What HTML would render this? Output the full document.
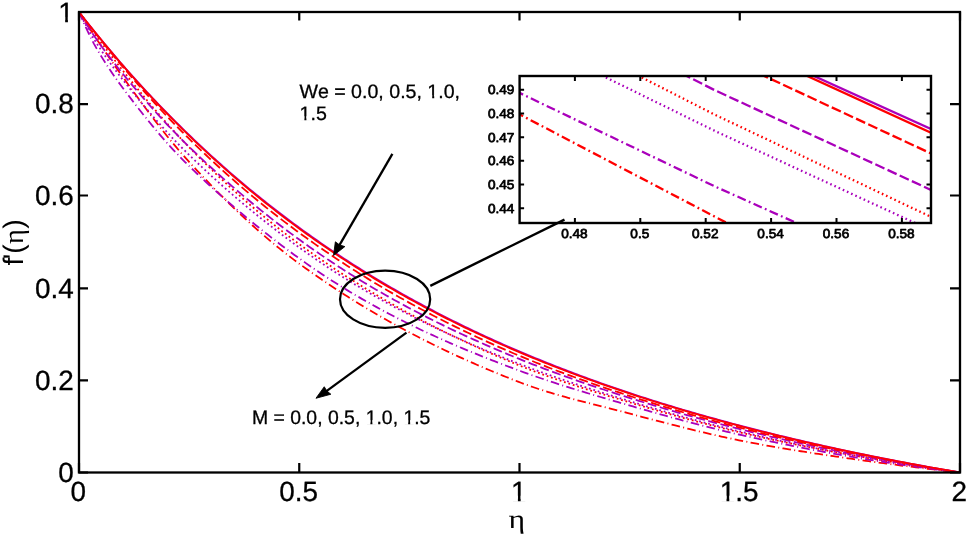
<!DOCTYPE html><html><head><meta charset="utf-8"><style>html,body{margin:0;padding:0;background:#fff;overflow:hidden;}svg{display:block;will-change:transform;}text{font-kerning:none;text-rendering:geometricPrecision;white-space:pre;}</style></head><body><svg width="968" height="536" viewBox="0 0 968 536"><rect width="968" height="536" fill="#fff"/><defs><clipPath id="cm"><rect x="79.0" y="12.0" width="881.0" height="460.5"/></clipPath><clipPath id="ci"><rect x="519.6" y="76.0" width="411.4" height="147.0"/></clipPath></defs><g clip-path="url(#cm)"><path d="M79.00,12.00 L81.95,16.60 L84.89,21.18 L87.84,25.71 L90.79,30.22 L93.73,34.68 L96.68,39.12 L99.63,43.52 L102.57,47.88 L105.52,52.22 L108.46,56.51 L111.41,60.78 L114.36,65.00 L117.30,69.19 L120.25,73.35 L123.20,77.47 L126.14,81.57 L129.09,85.66 L132.04,89.73 L134.98,93.79 L137.93,97.82 L140.88,101.84 L143.82,105.82 L146.77,109.78 L149.72,113.70 L152.66,117.60 L155.61,121.45 L158.56,125.27 L161.50,129.05 L164.45,132.78 L167.39,136.46 L170.34,140.09 L173.29,143.68 L176.23,147.20 L179.18,150.67 L182.13,154.08 L185.07,157.42 L188.02,160.70 L190.97,163.92 L193.91,167.12 L196.86,170.29 L199.81,173.43 L202.75,176.56 L205.70,179.66 L208.65,182.73 L211.59,185.78 L214.54,188.81 L217.48,191.81 L220.43,194.78 L223.38,197.73 L226.32,200.65 L229.27,203.55 L232.22,206.42 L235.16,209.26 L238.11,212.07 L241.06,214.86 L244.00,217.62 L246.95,220.35 L249.90,223.05 L252.84,225.72 L255.79,228.36 L258.74,230.98 L261.68,233.56 L264.63,236.11 L267.58,238.63 L270.52,241.12 L273.47,243.58 L276.41,246.01 L279.36,248.40 L282.31,250.76 L285.25,253.09 L288.20,255.39 L291.15,257.65 L294.09,259.88 L297.04,262.08 L299.99,264.24 L302.93,266.37 L305.88,268.49 L308.83,270.59 L311.77,272.68 L314.72,274.74 L317.67,276.79 L320.61,278.82 L323.56,280.83 L326.51,282.82 L329.45,284.80 L332.40,286.76 L335.34,288.70 L338.29,290.63 L341.24,292.54 L344.18,294.44 L347.13,296.31 L350.08,298.17 L353.02,300.02 L355.97,301.85 L358.92,303.66 L361.86,305.46 L364.81,307.24 L367.76,309.01 L370.70,310.76 L373.65,312.50 L376.60,314.22 L379.54,315.92 L382.49,317.61 L385.43,319.29 L388.38,320.95 L391.33,322.60 L394.27,324.24 L397.22,325.86 L400.17,327.46 L403.11,329.06 L406.06,330.64 L409.01,332.20 L411.95,333.75 L414.90,335.29 L417.85,336.82 L420.79,338.33 L423.74,339.83 L426.69,341.31 L429.63,342.79 L432.58,344.25 L435.53,345.70 L438.47,347.13 L441.42,348.55 L444.36,349.97 L447.31,351.37 L450.26,352.75 L453.20,354.13 L456.15,355.49 L459.10,356.85 L462.04,358.19 L464.99,359.52 L467.94,360.83 L470.88,362.14 L473.83,363.44 L476.78,364.72 L479.72,366.00 L482.67,367.26 L485.62,368.51 L488.56,369.76 L491.51,370.99 L494.45,372.21 L497.40,373.42 L500.35,374.62 L503.29,375.81 L506.24,376.99 L509.19,378.17 L512.13,379.33 L515.08,380.48 L518.03,381.62 L520.97,382.75 L523.92,383.86 L526.87,384.94 L529.81,385.99 L532.76,387.02 L535.71,388.02 L538.65,389.00 L541.60,389.96 L544.55,390.90 L547.49,391.82 L550.44,392.72 L553.38,393.60 L556.33,394.47 L559.28,395.32 L562.22,396.15 L565.17,396.97 L568.12,397.78 L571.06,398.58 L574.01,399.37 L576.96,400.14 L579.90,400.91 L582.85,401.67 L585.80,402.43 L588.74,403.18 L591.69,403.92 L594.64,404.66 L597.58,405.40 L600.53,406.14 L603.47,406.88 L606.42,407.62 L609.37,408.36 L612.31,409.10 L615.26,409.85 L618.21,410.60 L621.15,411.35 L624.10,412.12 L627.05,412.89 L629.99,413.67 L632.94,414.45 L635.89,415.23 L638.83,416.01 L641.78,416.79 L644.73,417.57 L647.67,418.35 L650.62,419.12 L653.57,419.90 L656.51,420.67 L659.46,421.43 L662.40,422.20 L665.35,422.96 L668.30,423.72 L671.24,424.47 L674.19,425.22 L677.14,425.97 L680.08,426.71 L683.03,427.45 L685.98,428.18 L688.92,428.91 L691.87,429.63 L694.82,430.35 L697.76,431.06 L700.71,431.77 L703.66,432.47 L706.60,433.16 L709.55,433.85 L712.49,434.52 L715.44,435.20 L718.39,435.86 L721.33,436.52 L724.28,437.16 L727.23,437.81 L730.17,438.44 L733.12,439.06 L736.07,439.67 L739.01,440.28 L741.96,440.88 L744.91,441.46 L747.85,442.04 L750.80,442.61 L753.75,443.17 L756.69,443.73 L759.64,444.27 L762.59,444.81 L765.53,445.35 L768.48,445.87 L771.42,446.39 L774.37,446.90 L777.32,447.41 L780.26,447.91 L783.21,448.40 L786.16,448.89 L789.10,449.38 L792.05,449.85 L795.00,450.33 L797.94,450.80 L800.89,451.26 L803.84,451.72 L806.78,452.18 L809.73,452.63 L812.68,453.08 L815.62,453.53 L818.57,453.97 L821.52,454.41 L824.46,454.85 L827.41,455.28 L830.35,455.72 L833.30,456.15 L836.25,456.58 L839.19,457.00 L842.14,457.43 L845.09,457.86 L848.03,458.28 L850.98,458.71 L853.93,459.13 L856.87,459.55 L859.82,459.96 L862.77,460.38 L865.71,460.79 L868.66,461.19 L871.61,461.60 L874.55,462.00 L877.50,462.40 L880.44,462.79 L883.39,463.19 L886.34,463.58 L889.28,463.96 L892.23,464.35 L895.18,464.73 L898.12,465.11 L901.07,465.49 L904.02,465.86 L906.96,466.23 L909.91,466.60 L912.86,466.97 L915.80,467.33 L918.75,467.69 L921.70,468.05 L924.64,468.41 L927.59,468.76 L930.54,469.11 L933.48,469.46 L936.43,469.81 L939.37,470.15 L942.32,470.50 L945.27,470.84 L948.21,471.17 L951.16,471.51 L954.11,471.84 L957.05,472.17 L960.00,472.50" stroke="#ff0000" stroke-width="1.8" fill="none" stroke-dasharray="8.6 3.3 1.0 3.3"/><path d="M79.00,12.00 L81.95,18.70 L84.89,25.25 L87.84,31.58 L90.79,37.64 L93.73,43.35 L96.68,48.66 L99.63,53.61 L102.57,58.40 L105.52,63.06 L108.46,67.59 L111.41,72.00 L114.36,76.29 L117.30,80.47 L120.25,84.54 L123.20,88.52 L126.14,92.43 L129.09,96.32 L132.04,100.17 L134.98,103.99 L137.93,107.77 L140.88,111.52 L143.82,115.23 L146.77,118.89 L149.72,122.52 L152.66,126.10 L155.61,129.63 L158.56,133.12 L161.50,136.55 L164.45,139.94 L167.39,143.27 L170.34,146.55 L173.29,149.77 L176.23,152.94 L179.18,156.04 L182.13,159.09 L185.07,162.07 L188.02,164.98 L190.97,167.84 L193.91,170.67 L196.86,173.48 L199.81,176.27 L202.75,179.03 L205.70,181.77 L208.65,184.49 L211.59,187.19 L214.54,189.87 L217.48,192.52 L220.43,195.16 L223.38,197.77 L226.32,200.37 L229.27,202.94 L232.22,205.49 L235.16,208.02 L238.11,210.53 L241.06,213.02 L244.00,215.49 L246.95,217.95 L249.90,220.38 L252.84,222.79 L255.79,225.19 L258.74,227.56 L261.68,229.92 L264.63,232.26 L267.58,234.58 L270.52,236.88 L273.47,239.16 L276.41,241.43 L279.36,243.68 L282.31,245.91 L285.25,248.12 L288.20,250.32 L291.15,252.50 L294.09,254.66 L297.04,256.80 L299.99,258.93 L302.93,261.04 L305.88,263.13 L308.83,265.19 L311.77,267.23 L314.72,269.25 L317.67,271.25 L320.61,273.23 L323.56,275.19 L326.51,277.12 L329.45,279.04 L332.40,280.94 L335.34,282.81 L338.29,284.67 L341.24,286.51 L344.18,288.33 L347.13,290.12 L350.08,291.91 L353.02,293.67 L355.97,295.41 L358.92,297.14 L361.86,298.85 L364.81,300.54 L367.76,302.22 L370.70,303.87 L373.65,305.51 L376.60,307.14 L379.54,308.75 L382.49,310.34 L385.43,311.92 L388.38,313.48 L391.33,315.02 L394.27,316.55 L397.22,318.07 L400.17,319.57 L403.11,321.06 L406.06,322.53 L409.01,323.99 L411.95,325.43 L414.90,326.86 L417.85,328.28 L420.79,329.69 L423.74,331.08 L426.69,332.46 L429.63,333.83 L432.58,335.18 L435.53,336.52 L438.47,337.86 L441.42,339.18 L444.36,340.48 L447.31,341.78 L450.26,343.07 L453.20,344.34 L456.15,345.61 L459.10,346.86 L462.04,348.11 L464.99,349.34 L467.94,350.57 L470.88,351.79 L473.83,352.99 L476.78,354.19 L479.72,355.38 L482.67,356.56 L485.62,357.73 L488.56,358.90 L491.51,360.05 L494.45,361.20 L497.40,362.34 L500.35,363.48 L503.29,364.60 L506.24,365.72 L509.19,366.83 L512.13,367.94 L515.08,369.04 L518.03,370.13 L520.97,371.22 L523.92,372.30 L526.87,373.36 L529.81,374.41 L532.76,375.45 L535.71,376.48 L538.65,377.49 L541.60,378.50 L544.55,379.50 L547.49,380.49 L550.44,381.46 L553.38,382.43 L556.33,383.39 L559.28,384.34 L562.22,385.29 L565.17,386.22 L568.12,387.15 L571.06,388.08 L574.01,388.99 L576.96,389.90 L579.90,390.81 L582.85,391.70 L585.80,392.60 L588.74,393.49 L591.69,394.37 L594.64,395.25 L597.58,396.13 L600.53,397.00 L603.47,397.87 L606.42,398.74 L609.37,399.60 L612.31,400.46 L615.26,401.32 L618.21,402.18 L621.15,403.04 L624.10,403.90 L627.05,404.76 L629.99,405.62 L632.94,406.47 L635.89,407.33 L638.83,408.18 L641.78,409.03 L644.73,409.87 L647.67,410.71 L650.62,411.55 L653.57,412.39 L656.51,413.22 L659.46,414.04 L662.40,414.87 L665.35,415.69 L668.30,416.50 L671.24,417.31 L674.19,418.12 L677.14,418.92 L680.08,419.72 L683.03,420.51 L685.98,421.30 L688.92,422.08 L691.87,422.86 L694.82,423.64 L697.76,424.40 L700.71,425.16 L703.66,425.92 L706.60,426.67 L709.55,427.42 L712.49,428.15 L715.44,428.89 L718.39,429.61 L721.33,430.33 L724.28,431.04 L727.23,431.75 L730.17,432.45 L733.12,433.14 L736.07,433.83 L739.01,434.50 L741.96,435.18 L744.91,435.84 L747.85,436.50 L750.80,437.16 L753.75,437.81 L756.69,438.46 L759.64,439.10 L762.59,439.73 L765.53,440.36 L768.48,440.99 L771.42,441.61 L774.37,442.23 L777.32,442.84 L780.26,443.45 L783.21,444.05 L786.16,444.65 L789.10,445.24 L792.05,445.83 L795.00,446.41 L797.94,446.99 L800.89,447.57 L803.84,448.14 L806.78,448.70 L809.73,449.26 L812.68,449.82 L815.62,450.37 L818.57,450.92 L821.52,451.46 L824.46,452.00 L827.41,452.54 L830.35,453.07 L833.30,453.60 L836.25,454.12 L839.19,454.64 L842.14,455.15 L845.09,455.66 L848.03,456.17 L850.98,456.67 L853.93,457.16 L856.87,457.66 L859.82,458.15 L862.77,458.63 L865.71,459.11 L868.66,459.59 L871.61,460.06 L874.55,460.53 L877.50,461.00 L880.44,461.46 L883.39,461.92 L886.34,462.37 L889.28,462.82 L892.23,463.27 L895.18,463.71 L898.12,464.15 L901.07,464.58 L904.02,465.01 L906.96,465.44 L909.91,465.86 L912.86,466.28 L915.80,466.70 L918.75,467.11 L921.70,467.52 L924.64,467.92 L927.59,468.32 L930.54,468.72 L933.48,469.12 L936.43,469.51 L939.37,469.89 L942.32,470.28 L945.27,470.66 L948.21,471.03 L951.16,471.40 L954.11,471.77 L957.05,472.14 L960.00,472.50" stroke="#aa00bb" stroke-width="1.8" fill="none" stroke-dasharray="8.6 3.3 1.0 3.3"/><path d="M79.00,12.00 L81.95,17.64 L84.89,23.16 L87.84,28.54 L90.79,33.74 L93.73,38.71 L96.68,43.41 L99.63,47.87 L102.57,52.22 L105.52,56.48 L108.46,60.65 L111.41,64.73 L114.36,68.72 L117.30,72.64 L120.25,76.48 L123.20,80.24 L126.14,83.96 L129.09,87.65 L132.04,91.31 L134.98,94.94 L137.93,98.54 L140.88,102.10 L143.82,105.64 L146.77,109.13 L149.72,112.59 L152.66,116.02 L155.61,119.40 L158.56,122.75 L161.50,126.06 L164.45,129.32 L167.39,132.55 L170.34,135.73 L173.29,138.86 L176.23,141.95 L179.18,145.00 L182.13,148.00 L185.07,150.95 L188.02,153.85 L190.97,156.71 L193.91,159.54 L196.86,162.35 L199.81,165.14 L202.75,167.90 L205.70,170.65 L208.65,173.37 L211.59,176.07 L214.54,178.75 L217.48,181.41 L220.43,184.05 L223.38,186.67 L226.32,189.26 L229.27,191.84 L232.22,194.40 L235.16,196.93 L238.11,199.45 L241.06,201.95 L244.00,204.42 L246.95,206.88 L249.90,209.32 L252.84,211.74 L255.79,214.14 L258.74,216.53 L261.68,218.89 L264.63,221.24 L267.58,223.57 L270.52,225.88 L273.47,228.17 L276.41,230.44 L279.36,232.70 L282.31,234.94 L285.25,237.16 L288.20,239.37 L291.15,241.56 L294.09,243.73 L297.04,245.88 L299.99,248.02 L302.93,250.14 L305.88,252.24 L308.83,254.32 L311.77,256.38 L314.72,258.42 L317.67,260.44 L320.61,262.45 L323.56,264.43 L326.51,266.39 L329.45,268.34 L332.40,270.27 L335.34,272.18 L338.29,274.07 L341.24,275.95 L344.18,277.81 L347.13,279.65 L350.08,281.47 L353.02,283.28 L355.97,285.07 L358.92,286.84 L361.86,288.60 L364.81,290.34 L367.76,292.07 L370.70,293.78 L373.65,295.48 L376.60,297.16 L379.54,298.82 L382.49,300.47 L385.43,302.11 L388.38,303.73 L391.33,305.33 L394.27,306.93 L397.22,308.50 L400.17,310.07 L403.11,311.62 L406.06,313.16 L409.01,314.68 L411.95,316.19 L414.90,317.69 L417.85,319.18 L420.79,320.65 L423.74,322.11 L426.69,323.56 L429.63,325.00 L432.58,326.42 L435.53,327.84 L438.47,329.24 L441.42,330.63 L444.36,332.01 L447.31,333.38 L450.26,334.73 L453.20,336.08 L456.15,337.42 L459.10,338.74 L462.04,340.06 L464.99,341.37 L467.94,342.66 L470.88,343.95 L473.83,345.23 L476.78,346.50 L479.72,347.75 L482.67,349.00 L485.62,350.24 L488.56,351.48 L491.51,352.70 L494.45,353.92 L497.40,355.12 L500.35,356.32 L503.29,357.51 L506.24,358.70 L509.19,359.87 L512.13,361.04 L515.08,362.20 L518.03,363.36 L520.97,364.50 L523.92,365.64 L526.87,366.76 L529.81,367.88 L532.76,368.98 L535.71,370.08 L538.65,371.16 L541.60,372.24 L544.55,373.30 L547.49,374.36 L550.44,375.40 L553.38,376.44 L556.33,377.47 L559.28,378.50 L562.22,379.51 L565.17,380.52 L568.12,381.52 L571.06,382.51 L574.01,383.49 L576.96,384.47 L579.90,385.45 L582.85,386.41 L585.80,387.37 L588.74,388.33 L591.69,389.28 L594.64,390.22 L597.58,391.16 L600.53,392.10 L603.47,393.03 L606.42,393.95 L609.37,394.87 L612.31,395.79 L615.26,396.71 L618.21,397.62 L621.15,398.53 L624.10,399.43 L627.05,400.34 L629.99,401.24 L632.94,402.14 L635.89,403.03 L638.83,403.92 L641.78,404.80 L644.73,405.69 L647.67,406.56 L650.62,407.44 L653.57,408.30 L656.51,409.17 L659.46,410.03 L662.40,410.88 L665.35,411.73 L668.30,412.58 L671.24,413.42 L674.19,414.25 L677.14,415.08 L680.08,415.91 L683.03,416.73 L685.98,417.55 L688.92,418.36 L691.87,419.16 L694.82,419.96 L697.76,420.76 L700.71,421.55 L703.66,422.33 L706.60,423.11 L709.55,423.89 L712.49,424.65 L715.44,425.41 L718.39,426.17 L721.33,426.92 L724.28,427.66 L727.23,428.40 L730.17,429.13 L733.12,429.86 L736.07,430.58 L739.01,431.29 L741.96,432.00 L744.91,432.70 L747.85,433.40 L750.80,434.09 L753.75,434.78 L756.69,435.46 L759.64,436.14 L762.59,436.81 L765.53,437.48 L768.48,438.14 L771.42,438.80 L774.37,439.46 L777.32,440.11 L780.26,440.75 L783.21,441.39 L786.16,442.03 L789.10,442.66 L792.05,443.29 L795.00,443.91 L797.94,444.53 L800.89,445.14 L803.84,445.75 L806.78,446.36 L809.73,446.96 L812.68,447.56 L815.62,448.15 L818.57,448.74 L821.52,449.32 L824.46,449.90 L827.41,450.48 L830.35,451.05 L833.30,451.62 L836.25,452.18 L839.19,452.74 L842.14,453.30 L845.09,453.85 L848.03,454.40 L850.98,454.94 L853.93,455.48 L856.87,456.02 L859.82,456.55 L862.77,457.08 L865.71,457.61 L868.66,458.13 L871.61,458.65 L874.55,459.16 L877.50,459.67 L880.44,460.18 L883.39,460.68 L886.34,461.18 L889.28,461.67 L892.23,462.16 L895.18,462.65 L898.12,463.14 L901.07,463.62 L904.02,464.09 L906.96,464.57 L909.91,465.04 L912.86,465.50 L915.80,465.97 L918.75,466.43 L921.70,466.88 L924.64,467.33 L927.59,467.78 L930.54,468.23 L933.48,468.67 L936.43,469.11 L939.37,469.55 L942.32,469.98 L945.27,470.41 L948.21,470.83 L951.16,471.25 L954.11,471.67 L957.05,472.09 L960.00,472.50" stroke="#aa00bb" stroke-width="1.8" fill="none" stroke-dasharray="1.8 2.8"/><path d="M79.00,12.00 L81.95,16.15 L84.89,20.27 L87.84,24.36 L90.79,28.42 L93.73,32.45 L96.68,36.44 L99.63,40.41 L102.57,44.34 L105.52,48.25 L108.46,52.12 L111.41,55.96 L114.36,59.78 L117.30,63.56 L120.25,67.31 L123.20,71.03 L126.14,74.73 L129.09,78.41 L132.04,82.07 L134.98,85.70 L137.93,89.31 L140.88,92.90 L143.82,96.46 L146.77,100.00 L149.72,103.51 L152.66,106.99 L155.61,110.44 L158.56,113.86 L161.50,117.25 L164.45,120.60 L167.39,123.93 L170.34,127.21 L173.29,130.46 L176.23,133.68 L179.18,136.85 L182.13,139.99 L185.07,143.09 L188.02,146.14 L190.97,149.16 L193.91,152.15 L196.86,155.12 L199.81,158.07 L202.75,160.99 L205.70,163.90 L208.65,166.78 L211.59,169.63 L214.54,172.47 L217.48,175.28 L220.43,178.07 L223.38,180.84 L226.32,183.59 L229.27,186.31 L232.22,189.01 L235.16,191.69 L238.11,194.34 L241.06,196.97 L244.00,199.58 L246.95,202.16 L249.90,204.73 L252.84,207.26 L255.79,209.78 L258.74,212.27 L261.68,214.74 L264.63,217.18 L267.58,219.61 L270.52,222.00 L273.47,224.38 L276.41,226.73 L279.36,229.05 L282.31,231.36 L285.25,233.63 L288.20,235.89 L291.15,238.12 L294.09,240.32 L297.04,242.51 L299.99,244.66 L302.93,246.80 L305.88,248.92 L308.83,251.03 L311.77,253.12 L314.72,255.19 L317.67,257.24 L320.61,259.28 L323.56,261.30 L326.51,263.31 L329.45,265.30 L332.40,267.27 L335.34,269.23 L338.29,271.17 L341.24,273.10 L344.18,275.01 L347.13,276.91 L350.08,278.79 L353.02,280.66 L355.97,282.51 L358.92,284.35 L361.86,286.17 L364.81,287.98 L367.76,289.77 L370.70,291.55 L373.65,293.32 L376.60,295.07 L379.54,296.81 L382.49,298.53 L385.43,300.24 L388.38,301.94 L391.33,303.62 L394.27,305.29 L397.22,306.95 L400.17,308.60 L403.11,310.23 L406.06,311.85 L409.01,313.45 L411.95,315.05 L414.90,316.63 L417.85,318.19 L420.79,319.75 L423.74,321.30 L426.69,322.83 L429.63,324.35 L432.58,325.86 L435.53,327.35 L438.47,328.84 L441.42,330.31 L444.36,331.77 L447.31,333.22 L450.26,334.66 L453.20,336.09 L456.15,337.51 L459.10,338.92 L462.04,340.31 L464.99,341.70 L467.94,343.07 L470.88,344.43 L473.83,345.79 L476.78,347.13 L479.72,348.46 L482.67,349.79 L485.62,351.10 L488.56,352.40 L491.51,353.69 L494.45,354.98 L497.40,356.25 L500.35,357.51 L503.29,358.77 L506.24,360.01 L509.19,361.25 L512.13,362.47 L515.08,363.69 L518.03,364.90 L520.97,366.09 L523.92,367.27 L526.87,368.44 L529.81,369.59 L532.76,370.72 L535.71,371.84 L538.65,372.94 L541.60,374.03 L544.55,375.11 L547.49,376.17 L550.44,377.22 L553.38,378.25 L556.33,379.28 L559.28,380.29 L562.22,381.29 L565.17,382.29 L568.12,383.27 L571.06,384.24 L574.01,385.21 L576.96,386.17 L579.90,387.11 L582.85,388.06 L585.80,388.99 L588.74,389.92 L591.69,390.84 L594.64,391.76 L597.58,392.67 L600.53,393.58 L603.47,394.48 L606.42,395.38 L609.37,396.28 L612.31,397.17 L615.26,398.06 L618.21,398.95 L621.15,399.84 L624.10,400.73 L627.05,401.62 L629.99,402.51 L632.94,403.39 L635.89,404.28 L638.83,405.16 L641.78,406.03 L644.73,406.90 L647.67,407.77 L650.62,408.63 L653.57,409.49 L656.51,410.35 L659.46,411.20 L662.40,412.04 L665.35,412.88 L668.30,413.72 L671.24,414.55 L674.19,415.37 L677.14,416.20 L680.08,417.01 L683.03,417.82 L685.98,418.63 L688.92,419.43 L691.87,420.23 L694.82,421.02 L697.76,421.80 L700.71,422.58 L703.66,423.35 L706.60,424.12 L709.55,424.88 L712.49,425.64 L715.44,426.39 L718.39,427.13 L721.33,427.87 L724.28,428.60 L727.23,429.33 L730.17,430.05 L733.12,430.76 L736.07,431.47 L739.01,432.17 L741.96,432.86 L744.91,433.54 L747.85,434.22 L750.80,434.90 L753.75,435.56 L756.69,436.23 L759.64,436.88 L762.59,437.53 L765.53,438.17 L768.48,438.81 L771.42,439.45 L774.37,440.07 L777.32,440.70 L780.26,441.32 L783.21,441.93 L786.16,442.54 L789.10,443.14 L792.05,443.74 L795.00,444.33 L797.94,444.92 L800.89,445.51 L803.84,446.09 L806.78,446.67 L809.73,447.24 L812.68,447.82 L815.62,448.38 L818.57,448.95 L821.52,449.51 L824.46,450.06 L827.41,450.62 L830.35,451.17 L833.30,451.71 L836.25,452.26 L839.19,452.80 L842.14,453.34 L845.09,453.88 L848.03,454.41 L850.98,454.95 L853.93,455.48 L856.87,456.00 L859.82,456.52 L862.77,457.04 L865.71,457.56 L868.66,458.07 L871.61,458.58 L874.55,459.09 L877.50,459.59 L880.44,460.09 L883.39,460.59 L886.34,461.09 L889.28,461.58 L892.23,462.06 L895.18,462.55 L898.12,463.03 L901.07,463.51 L904.02,463.99 L906.96,464.46 L909.91,464.93 L912.86,465.40 L915.80,465.86 L918.75,466.33 L921.70,466.78 L924.64,467.24 L927.59,467.69 L930.54,468.14 L933.48,468.59 L936.43,469.04 L939.37,469.48 L942.32,469.92 L945.27,470.36 L948.21,470.79 L951.16,471.22 L954.11,471.65 L957.05,472.08 L960.00,472.50" stroke="#ff0000" stroke-width="1.8" fill="none" stroke-dasharray="1.8 2.8"/><path d="M79.00,12.00 L81.95,16.86 L84.89,21.65 L87.84,26.34 L90.79,30.91 L93.73,35.33 L96.68,39.60 L99.63,43.70 L102.57,47.74 L105.52,51.70 L108.46,55.61 L111.41,59.45 L114.36,63.23 L117.30,66.95 L120.25,70.62 L123.20,74.24 L126.14,77.81 L129.09,81.36 L132.04,84.88 L134.98,88.37 L137.93,91.84 L140.88,95.27 L143.82,98.68 L146.77,102.05 L149.72,105.39 L152.66,108.70 L155.61,111.98 L158.56,115.22 L161.50,118.44 L164.45,121.62 L167.39,124.76 L170.34,127.87 L173.29,130.94 L176.23,133.98 L179.18,136.99 L182.13,139.95 L185.07,142.88 L188.02,145.77 L190.97,148.63 L193.91,151.46 L196.86,154.27 L199.81,157.06 L202.75,159.83 L205.70,162.57 L208.65,165.30 L211.59,168.00 L214.54,170.68 L217.48,173.34 L220.43,175.98 L223.38,178.60 L226.32,181.21 L229.27,183.79 L232.22,186.35 L235.16,188.89 L238.11,191.41 L241.06,193.91 L244.00,196.39 L246.95,198.85 L249.90,201.30 L252.84,203.72 L255.79,206.13 L258.74,208.52 L261.68,210.89 L264.63,213.24 L267.58,215.58 L270.52,217.89 L273.47,220.19 L276.41,222.47 L279.36,224.73 L282.31,226.98 L285.25,229.21 L288.20,231.42 L291.15,233.62 L294.09,235.80 L297.04,237.96 L299.99,240.10 L302.93,242.23 L305.88,244.34 L308.83,246.43 L311.77,248.50 L314.72,250.56 L317.67,252.60 L320.61,254.62 L323.56,256.62 L326.51,258.61 L329.45,260.58 L332.40,262.53 L335.34,264.46 L338.29,266.38 L341.24,268.29 L344.18,270.17 L347.13,272.04 L350.08,273.90 L353.02,275.74 L355.97,277.56 L358.92,279.37 L361.86,281.17 L364.81,282.94 L367.76,284.71 L370.70,286.46 L373.65,288.19 L376.60,289.91 L379.54,291.62 L382.49,293.31 L385.43,294.99 L388.38,296.65 L391.33,298.30 L394.27,299.94 L397.22,301.56 L400.17,303.17 L403.11,304.77 L406.06,306.36 L409.01,307.93 L411.95,309.49 L414.90,311.04 L417.85,312.57 L420.79,314.09 L423.74,315.61 L426.69,317.10 L429.63,318.59 L432.58,320.07 L435.53,321.53 L438.47,322.98 L441.42,324.43 L444.36,325.86 L447.31,327.28 L450.26,328.69 L453.20,330.09 L456.15,331.47 L459.10,332.85 L462.04,334.22 L464.99,335.58 L467.94,336.92 L470.88,338.26 L473.83,339.59 L476.78,340.91 L479.72,342.22 L482.67,343.52 L485.62,344.81 L488.56,346.09 L491.51,347.36 L494.45,348.63 L497.40,349.88 L500.35,351.13 L503.29,352.37 L506.24,353.60 L509.19,354.82 L512.13,356.03 L515.08,357.24 L518.03,358.44 L520.97,359.63 L523.92,360.81 L526.87,361.98 L529.81,363.14 L532.76,364.29 L535.71,365.43 L538.65,366.57 L541.60,367.69 L544.55,368.80 L547.49,369.91 L550.44,371.01 L553.38,372.10 L556.33,373.18 L559.28,374.25 L562.22,375.32 L565.17,376.38 L568.12,377.43 L571.06,378.47 L574.01,379.50 L576.96,380.53 L579.90,381.56 L582.85,382.57 L585.80,383.58 L588.74,384.58 L591.69,385.58 L594.64,386.57 L597.58,387.56 L600.53,388.54 L603.47,389.51 L606.42,390.48 L609.37,391.44 L612.31,392.40 L615.26,393.36 L618.21,394.30 L621.15,395.25 L624.10,396.19 L627.05,397.13 L629.99,398.06 L632.94,398.99 L635.89,399.91 L638.83,400.83 L641.78,401.74 L644.73,402.65 L647.67,403.55 L650.62,404.45 L653.57,405.34 L656.51,406.23 L659.46,407.11 L662.40,407.99 L665.35,408.86 L668.30,409.73 L671.24,410.59 L674.19,411.45 L677.14,412.30 L680.08,413.15 L683.03,413.99 L685.98,414.82 L688.92,415.66 L691.87,416.48 L694.82,417.30 L697.76,418.12 L700.71,418.93 L703.66,419.73 L706.60,420.53 L709.55,421.32 L712.49,422.11 L715.44,422.89 L718.39,423.67 L721.33,424.44 L724.28,425.21 L727.23,425.97 L730.17,426.73 L733.12,427.48 L736.07,428.22 L739.01,428.96 L741.96,429.69 L744.91,430.42 L747.85,431.14 L750.80,431.86 L753.75,432.58 L756.69,433.28 L759.64,433.99 L762.59,434.69 L765.53,435.38 L768.48,436.08 L771.42,436.76 L774.37,437.44 L777.32,438.12 L780.26,438.79 L783.21,439.46 L786.16,440.13 L789.10,440.79 L792.05,441.44 L795.00,442.09 L797.94,442.74 L800.89,443.38 L803.84,444.02 L806.78,444.66 L809.73,445.29 L812.68,445.91 L815.62,446.54 L818.57,447.15 L821.52,447.77 L824.46,448.38 L827.41,448.98 L830.35,449.59 L833.30,450.19 L836.25,450.78 L839.19,451.37 L842.14,451.96 L845.09,452.54 L848.03,453.12 L850.98,453.69 L853.93,454.27 L856.87,454.83 L859.82,455.40 L862.77,455.96 L865.71,456.51 L868.66,457.07 L871.61,457.62 L874.55,458.16 L877.50,458.70 L880.44,459.24 L883.39,459.78 L886.34,460.31 L889.28,460.84 L892.23,461.36 L895.18,461.88 L898.12,462.40 L901.07,462.92 L904.02,463.43 L906.96,463.93 L909.91,464.44 L912.86,464.94 L915.80,465.43 L918.75,465.93 L921.70,466.42 L924.64,466.91 L927.59,467.39 L930.54,467.87 L933.48,468.35 L936.43,468.82 L939.37,469.29 L942.32,469.76 L945.27,470.23 L948.21,470.69 L951.16,471.14 L954.11,471.60 L957.05,472.05 L960.00,472.50" stroke="#aa00bb" stroke-width="1.8" fill="none" stroke-dasharray="9 3.6"/><path d="M79.00,12.00 L81.95,15.89 L84.89,19.75 L87.84,23.58 L90.79,27.38 L93.73,31.15 L96.68,34.89 L99.63,38.61 L102.57,42.29 L105.52,45.95 L108.46,49.58 L111.41,53.18 L114.36,56.75 L117.30,60.30 L120.25,63.81 L123.20,67.31 L126.14,70.77 L129.09,74.21 L132.04,77.63 L134.98,81.02 L137.93,84.39 L140.88,87.73 L143.82,91.05 L146.77,94.34 L149.72,97.61 L152.66,100.85 L155.61,104.06 L158.56,107.25 L161.50,110.42 L164.45,113.56 L167.39,116.67 L170.34,119.76 L173.29,122.82 L176.23,125.85 L179.18,128.86 L182.13,131.83 L185.07,134.79 L188.02,137.71 L190.97,140.61 L193.91,143.49 L196.86,146.34 L199.81,149.17 L202.75,151.98 L205.70,154.77 L208.65,157.54 L211.59,160.29 L214.54,163.01 L217.48,165.72 L220.43,168.40 L223.38,171.07 L226.32,173.71 L229.27,176.33 L232.22,178.93 L235.16,181.51 L238.11,184.08 L241.06,186.62 L244.00,189.14 L246.95,191.64 L249.90,194.12 L252.84,196.58 L255.79,199.02 L258.74,201.44 L261.68,203.85 L264.63,206.23 L267.58,208.59 L270.52,210.94 L273.47,213.26 L276.41,215.57 L279.36,217.85 L282.31,220.12 L285.25,222.37 L288.20,224.60 L291.15,226.81 L294.09,229.01 L297.04,231.18 L299.99,233.34 L302.93,235.48 L305.88,237.60 L308.83,239.70 L311.77,241.80 L314.72,243.87 L317.67,245.93 L320.61,247.97 L323.56,250.00 L326.51,252.01 L329.45,254.01 L332.40,255.99 L335.34,257.96 L338.29,259.91 L341.24,261.85 L344.18,263.77 L347.13,265.68 L350.08,267.57 L353.02,269.45 L355.97,271.32 L358.92,273.17 L361.86,275.01 L364.81,276.83 L367.76,278.64 L370.70,280.43 L373.65,282.22 L376.60,283.99 L379.54,285.74 L382.49,287.49 L385.43,289.22 L388.38,290.93 L391.33,292.64 L394.27,294.33 L397.22,296.01 L400.17,297.67 L403.11,299.33 L406.06,300.97 L409.01,302.60 L411.95,304.22 L414.90,305.82 L417.85,307.42 L420.79,309.00 L423.74,310.57 L426.69,312.13 L429.63,313.67 L432.58,315.21 L435.53,316.73 L438.47,318.25 L441.42,319.75 L444.36,321.24 L447.31,322.72 L450.26,324.19 L453.20,325.65 L456.15,327.10 L459.10,328.54 L462.04,329.96 L464.99,331.38 L467.94,332.79 L470.88,334.18 L473.83,335.57 L476.78,336.95 L479.72,338.31 L482.67,339.67 L485.62,341.02 L488.56,342.35 L491.51,343.68 L494.45,345.00 L497.40,346.31 L500.35,347.61 L503.29,348.90 L506.24,350.18 L509.19,351.45 L512.13,352.71 L515.08,353.97 L518.03,355.21 L520.97,356.45 L523.92,357.68 L526.87,358.89 L529.81,360.09 L532.76,361.29 L535.71,362.47 L538.65,363.65 L541.60,364.81 L544.55,365.96 L547.49,367.11 L550.44,368.24 L553.38,369.37 L556.33,370.49 L559.28,371.60 L562.22,372.70 L565.17,373.79 L568.12,374.87 L571.06,375.95 L574.01,377.01 L576.96,378.07 L579.90,379.13 L582.85,380.17 L585.80,381.21 L588.74,382.24 L591.69,383.27 L594.64,384.29 L597.58,385.30 L600.53,386.30 L603.47,387.30 L606.42,388.29 L609.37,389.28 L612.31,390.26 L615.26,391.24 L618.21,392.21 L621.15,393.18 L624.10,394.14 L627.05,395.10 L629.99,396.05 L632.94,397.00 L635.89,397.94 L638.83,398.87 L641.78,399.80 L644.73,400.73 L647.67,401.65 L650.62,402.56 L653.57,403.47 L656.51,404.37 L659.46,405.27 L662.40,406.16 L665.35,407.05 L668.30,407.93 L671.24,408.80 L674.19,409.67 L677.14,410.54 L680.08,411.40 L683.03,412.25 L685.98,413.10 L688.92,413.94 L691.87,414.78 L694.82,415.61 L697.76,416.44 L700.71,417.26 L703.66,418.08 L706.60,418.89 L709.55,419.70 L712.49,420.50 L715.44,421.29 L718.39,422.08 L721.33,422.87 L724.28,423.65 L727.23,424.42 L730.17,425.19 L733.12,425.96 L736.07,426.72 L739.01,427.47 L741.96,428.22 L744.91,428.96 L747.85,429.70 L750.80,430.43 L753.75,431.16 L756.69,431.88 L759.64,432.60 L762.59,433.31 L765.53,434.02 L768.48,434.73 L771.42,435.43 L774.37,436.12 L777.32,436.81 L780.26,437.50 L783.21,438.18 L786.16,438.86 L789.10,439.53 L792.05,440.20 L795.00,440.86 L797.94,441.53 L800.89,442.18 L803.84,442.83 L806.78,443.48 L809.73,444.13 L812.68,444.77 L815.62,445.40 L818.57,446.04 L821.52,446.67 L824.46,447.29 L827.41,447.92 L830.35,448.53 L833.30,449.15 L836.25,449.76 L839.19,450.37 L842.14,450.97 L845.09,451.58 L848.03,452.17 L850.98,452.77 L853.93,453.36 L856.87,453.95 L859.82,454.53 L862.77,455.11 L865.71,455.69 L868.66,456.27 L871.61,456.84 L874.55,457.41 L877.50,457.97 L880.44,458.53 L883.39,459.09 L886.34,459.64 L889.28,460.19 L892.23,460.74 L895.18,461.29 L898.12,461.83 L901.07,462.37 L904.02,462.90 L906.96,463.44 L909.91,463.96 L912.86,464.49 L915.80,465.01 L918.75,465.53 L921.70,466.05 L924.64,466.56 L927.59,467.08 L930.54,467.58 L933.48,468.09 L936.43,468.59 L939.37,469.09 L942.32,469.58 L945.27,470.08 L948.21,470.57 L951.16,471.06 L954.11,471.54 L957.05,472.02 L960.00,472.50" stroke="#ff0000" stroke-width="1.8" fill="none" stroke-dasharray="9 3.6"/><path d="M79.00,12.00 L81.95,15.77 L84.89,19.51 L87.84,23.22 L90.79,26.91 L93.73,30.56 L96.68,34.19 L99.63,37.79 L102.57,41.37 L105.52,44.91 L108.46,48.43 L111.41,51.92 L114.36,55.39 L117.30,58.82 L120.25,62.24 L123.20,65.62 L126.14,68.98 L129.09,72.32 L132.04,75.62 L134.98,78.91 L137.93,82.16 L140.88,85.40 L143.82,88.60 L146.77,91.79 L149.72,94.94 L152.66,98.08 L155.61,101.19 L158.56,104.27 L161.50,107.34 L164.45,110.38 L167.39,113.40 L170.34,116.39 L173.29,119.37 L176.23,122.32 L179.18,125.25 L182.13,128.15 L185.07,131.04 L188.02,133.91 L190.97,136.75 L193.91,139.58 L196.86,142.38 L199.81,145.16 L202.75,147.92 L205.70,150.66 L208.65,153.37 L211.59,156.07 L214.54,158.75 L217.48,161.40 L220.43,164.04 L223.38,166.66 L226.32,169.25 L229.27,171.83 L232.22,174.39 L235.16,176.93 L238.11,179.44 L241.06,181.94 L244.00,184.43 L246.95,186.89 L249.90,189.33 L252.84,191.76 L255.79,194.17 L258.74,196.56 L261.68,198.93 L264.63,201.29 L267.58,203.62 L270.52,205.94 L273.47,208.25 L276.41,210.53 L279.36,212.80 L282.31,215.05 L285.25,217.29 L288.20,219.51 L291.15,221.71 L294.09,223.90 L297.04,226.07 L299.99,228.22 L302.93,230.36 L305.88,232.49 L308.83,234.59 L311.77,236.69 L314.72,238.76 L317.67,240.82 L320.61,242.87 L323.56,244.90 L326.51,246.92 L329.45,248.92 L332.40,250.90 L335.34,252.87 L338.29,254.83 L341.24,256.77 L344.18,258.70 L347.13,260.61 L350.08,262.51 L353.02,264.39 L355.97,266.27 L358.92,268.12 L361.86,269.97 L364.81,271.80 L367.76,273.61 L370.70,275.42 L373.65,277.21 L376.60,278.99 L379.54,280.75 L382.49,282.50 L385.43,284.24 L388.38,285.97 L391.33,287.68 L394.27,289.38 L397.22,291.07 L400.17,292.75 L403.11,294.41 L406.06,296.06 L409.01,297.70 L411.95,299.33 L414.90,300.95 L417.85,302.55 L420.79,304.15 L423.74,305.73 L426.69,307.30 L429.63,308.86 L432.58,310.41 L435.53,311.94 L438.47,313.47 L441.42,314.99 L444.36,316.49 L447.31,317.98 L450.26,319.47 L453.20,320.94 L456.15,322.40 L459.10,323.85 L462.04,325.30 L464.99,326.73 L467.94,328.15 L470.88,329.56 L473.83,330.96 L476.78,332.35 L479.72,333.73 L482.67,335.11 L485.62,336.47 L488.56,337.82 L491.51,339.17 L494.45,340.50 L497.40,341.82 L500.35,343.14 L503.29,344.45 L506.24,345.74 L509.19,347.03 L512.13,348.31 L515.08,349.58 L518.03,350.85 L520.97,352.10 L523.92,353.34 L526.87,354.58 L529.81,355.81 L532.76,357.03 L535.71,358.24 L538.65,359.45 L541.60,360.65 L544.55,361.84 L547.49,363.02 L550.44,364.19 L553.38,365.36 L556.33,366.52 L559.28,367.67 L562.22,368.82 L565.17,369.95 L568.12,371.08 L571.06,372.20 L574.01,373.32 L576.96,374.42 L579.90,375.52 L582.85,376.62 L585.80,377.70 L588.74,378.78 L591.69,379.85 L594.64,380.91 L597.58,381.97 L600.53,383.02 L603.47,384.06 L606.42,385.10 L609.37,386.13 L612.31,387.15 L615.26,388.16 L618.21,389.17 L621.15,390.17 L624.10,391.17 L627.05,392.15 L629.99,393.13 L632.94,394.11 L635.89,395.08 L638.83,396.04 L641.78,396.99 L644.73,397.94 L647.67,398.88 L650.62,399.82 L653.57,400.75 L656.51,401.68 L659.46,402.59 L662.40,403.51 L665.35,404.41 L668.30,405.32 L671.24,406.21 L674.19,407.10 L677.14,407.99 L680.08,408.86 L683.03,409.74 L685.98,410.61 L688.92,411.47 L691.87,412.32 L694.82,413.18 L697.76,414.02 L700.71,414.86 L703.66,415.70 L706.60,416.53 L709.55,417.36 L712.49,418.18 L715.44,418.99 L718.39,419.81 L721.33,420.61 L724.28,421.41 L727.23,422.21 L730.17,423.00 L733.12,423.79 L736.07,424.57 L739.01,425.35 L741.96,426.12 L744.91,426.89 L747.85,427.66 L750.80,428.42 L753.75,429.17 L756.69,429.92 L759.64,430.67 L762.59,431.41 L765.53,432.15 L768.48,432.88 L771.42,433.61 L774.37,434.34 L777.32,435.06 L780.26,435.78 L783.21,436.49 L786.16,437.20 L789.10,437.90 L792.05,438.60 L795.00,439.30 L797.94,439.99 L800.89,440.68 L803.84,441.36 L806.78,442.04 L809.73,442.72 L812.68,443.39 L815.62,444.06 L818.57,444.73 L821.52,445.39 L824.46,446.04 L827.41,446.70 L830.35,447.35 L833.30,447.99 L836.25,448.63 L839.19,449.27 L842.14,449.91 L845.09,450.54 L848.03,451.16 L850.98,451.79 L853.93,452.41 L856.87,453.02 L859.82,453.64 L862.77,454.24 L865.71,454.85 L868.66,455.45 L871.61,456.05 L874.55,456.65 L877.50,457.24 L880.44,457.83 L883.39,458.41 L886.34,458.99 L889.28,459.57 L892.23,460.15 L895.18,460.72 L898.12,461.29 L901.07,461.85 L904.02,462.41 L906.96,462.97 L909.91,463.53 L912.86,464.08 L915.80,464.63 L918.75,465.18 L921.70,465.72 L924.64,466.26 L927.59,466.80 L930.54,467.33 L933.48,467.86 L936.43,468.39 L939.37,468.91 L942.32,469.43 L945.27,469.95 L948.21,470.47 L951.16,470.98 L954.11,471.49 L957.05,472.00 L960.00,472.50" stroke="#aa00bb" stroke-width="1.8" fill="none"/><path d="M79.00,12.00 L81.95,15.79 L84.89,19.55 L87.84,23.29 L90.79,26.99 L93.73,30.67 L96.68,34.32 L99.63,37.94 L102.57,41.53 L105.52,45.10 L108.46,48.64 L111.41,52.15 L114.36,55.63 L117.30,59.09 L120.25,62.52 L123.20,65.93 L126.14,69.30 L129.09,72.66 L132.04,75.99 L134.98,79.29 L137.93,82.56 L140.88,85.82 L143.82,89.04 L146.77,92.25 L149.72,95.42 L152.66,98.58 L155.61,101.71 L158.56,104.81 L161.50,107.89 L164.45,110.95 L167.39,113.99 L170.34,117.00 L173.29,119.99 L176.23,122.95 L179.18,125.90 L182.13,128.82 L185.07,131.72 L188.02,134.59 L190.97,137.45 L193.91,140.28 L196.86,143.09 L199.81,145.88 L202.75,148.65 L205.70,151.40 L208.65,154.12 L211.59,156.83 L214.54,159.52 L217.48,162.18 L220.43,164.83 L223.38,167.45 L226.32,170.06 L229.27,172.64 L232.22,175.21 L235.16,177.75 L238.11,180.28 L241.06,182.79 L244.00,185.27 L246.95,187.74 L249.90,190.20 L252.84,192.63 L255.79,195.04 L258.74,197.44 L261.68,199.82 L264.63,202.18 L267.58,204.52 L270.52,206.84 L273.47,209.15 L276.41,211.44 L279.36,213.71 L282.31,215.97 L285.25,218.20 L288.20,220.43 L291.15,222.63 L294.09,224.82 L297.04,226.99 L299.99,229.15 L302.93,231.28 L305.88,233.41 L308.83,235.52 L311.77,237.61 L314.72,239.68 L317.67,241.74 L320.61,243.79 L323.56,245.82 L326.51,247.83 L329.45,249.83 L332.40,251.82 L335.34,253.79 L338.29,255.74 L341.24,257.68 L344.18,259.61 L347.13,261.52 L350.08,263.42 L353.02,265.31 L355.97,267.18 L358.92,269.03 L361.86,270.88 L364.81,272.70 L367.76,274.52 L370.70,276.32 L373.65,278.11 L376.60,279.89 L379.54,281.65 L382.49,283.40 L385.43,285.14 L388.38,286.86 L391.33,288.57 L394.27,290.27 L397.22,291.96 L400.17,293.63 L403.11,295.30 L406.06,296.95 L409.01,298.59 L411.95,300.21 L414.90,301.83 L417.85,303.43 L420.79,305.02 L423.74,306.60 L426.69,308.17 L429.63,309.73 L432.58,311.27 L435.53,312.81 L438.47,314.33 L441.42,315.84 L444.36,317.35 L447.31,318.84 L450.26,320.32 L453.20,321.79 L456.15,323.25 L459.10,324.70 L462.04,326.14 L464.99,327.57 L467.94,328.98 L470.88,330.39 L473.83,331.79 L476.78,333.18 L479.72,334.56 L482.67,335.93 L485.62,337.29 L488.56,338.64 L491.51,339.98 L494.45,341.31 L497.40,342.63 L500.35,343.95 L503.29,345.25 L506.24,346.54 L509.19,347.83 L512.13,349.11 L515.08,350.37 L518.03,351.63 L520.97,352.88 L523.92,354.12 L526.87,355.36 L529.81,356.58 L532.76,357.80 L535.71,359.01 L538.65,360.21 L541.60,361.40 L544.55,362.58 L547.49,363.76 L550.44,364.92 L553.38,366.08 L556.33,367.24 L559.28,368.38 L562.22,369.51 L565.17,370.64 L568.12,371.76 L571.06,372.88 L574.01,373.98 L576.96,375.08 L579.90,376.17 L582.85,377.26 L585.80,378.33 L588.74,379.40 L591.69,380.47 L594.64,381.52 L597.58,382.57 L600.53,383.61 L603.47,384.65 L606.42,385.67 L609.37,386.70 L612.31,387.71 L615.26,388.72 L618.21,389.72 L621.15,390.71 L624.10,391.70 L627.05,392.68 L629.99,393.66 L632.94,394.63 L635.89,395.59 L638.83,396.55 L641.78,397.50 L644.73,398.44 L647.67,399.38 L650.62,400.31 L653.57,401.24 L656.51,402.16 L659.46,403.08 L662.40,403.99 L665.35,404.89 L668.30,405.79 L671.24,406.68 L674.19,407.56 L677.14,408.45 L680.08,409.32 L683.03,410.19 L685.98,411.05 L688.92,411.91 L691.87,412.77 L694.82,413.62 L697.76,414.46 L700.71,415.30 L703.66,416.13 L706.60,416.96 L709.55,417.78 L712.49,418.60 L715.44,419.41 L718.39,420.22 L721.33,421.02 L724.28,421.82 L727.23,422.61 L730.17,423.40 L733.12,424.18 L736.07,424.96 L739.01,425.73 L741.96,426.50 L744.91,427.26 L747.85,428.02 L750.80,428.78 L753.75,429.53 L756.69,430.28 L759.64,431.02 L762.59,431.75 L765.53,432.49 L768.48,433.22 L771.42,433.94 L774.37,434.66 L777.32,435.38 L780.26,436.09 L783.21,436.79 L786.16,437.50 L789.10,438.20 L792.05,438.89 L795.00,439.58 L797.94,440.27 L800.89,440.95 L803.84,441.63 L806.78,442.30 L809.73,442.97 L812.68,443.64 L815.62,444.30 L818.57,444.96 L821.52,445.62 L824.46,446.27 L827.41,446.92 L830.35,447.56 L833.30,448.20 L836.25,448.84 L839.19,449.47 L842.14,450.10 L845.09,450.72 L848.03,451.35 L850.98,451.96 L853.93,452.58 L856.87,453.19 L859.82,453.80 L862.77,454.40 L865.71,455.00 L868.66,455.60 L871.61,456.19 L874.55,456.78 L877.50,457.37 L880.44,457.95 L883.39,458.53 L886.34,459.11 L889.28,459.68 L892.23,460.25 L895.18,460.82 L898.12,461.38 L901.07,461.94 L904.02,462.50 L906.96,463.06 L909.91,463.61 L912.86,464.15 L915.80,464.70 L918.75,465.24 L921.70,465.78 L924.64,466.31 L927.59,466.85 L930.54,467.38 L933.48,467.90 L936.43,468.42 L939.37,468.94 L942.32,469.46 L945.27,469.97 L948.21,470.49 L951.16,470.99 L954.11,471.50 L957.05,472.00 L960.00,472.50" stroke="#ff0000" stroke-width="1.8" fill="none"/></g><path d="M79.00,472.5 V463.0 M79.00,12.0 V20.5 M299.25,472.5 V463.0 M299.25,12.0 V20.5 M519.50,472.5 V463.0 M519.50,12.0 V20.5 M739.75,472.5 V463.0 M739.75,12.0 V20.5 M960.00,472.5 V463.0 M960.00,12.0 V20.5 M79.0,472.50 H88.0 M960.0,472.50 H950.0 M79.0,380.40 H88.0 M960.0,380.40 H950.0 M79.0,288.30 H88.0 M960.0,288.30 H950.0 M79.0,195.50 H88.0 M960.0,195.50 H950.0 M79.0,104.20 H88.0 M960.0,104.20 H950.0 M79.0,12.00 H88.0 M960.0,12.00 H950.0" stroke="#000" stroke-width="2.2" fill="none"/><rect x="79.0" y="12.0" width="881.0" height="460.5" stroke="#000" stroke-width="2.3" fill="none"/><g fill="#000" stroke="#000" stroke-width="0.3"><text x="70.54" y="500.50" font-family="&quot;Liberation Sans&quot;, sans-serif" font-size="27.90">0</text><text x="279.16" y="500.50" font-family="&quot;Liberation Sans&quot;, sans-serif" font-size="27.90">0.5</text><text x="511.04" y="500.50" font-family="&quot;Liberation Sans&quot;, sans-serif" font-size="27.90">1</text><text x="719.66" y="500.50" font-family="&quot;Liberation Sans&quot;, sans-serif" font-size="27.90">1.5</text><text x="951.54" y="500.50" font-family="&quot;Liberation Sans&quot;, sans-serif" font-size="27.90">2</text><text x="58.28" y="481.60" font-family="&quot;Liberation Sans&quot;, sans-serif" font-size="27.90">0</text><text x="35.02" y="389.80" font-family="&quot;Liberation Sans&quot;, sans-serif" font-size="27.90">0.2</text><text x="35.02" y="297.70" font-family="&quot;Liberation Sans&quot;, sans-serif" font-size="27.90">0.4</text><text x="35.02" y="204.50" font-family="&quot;Liberation Sans&quot;, sans-serif" font-size="27.90">0.6</text><text x="35.02" y="113.40" font-family="&quot;Liberation Sans&quot;, sans-serif" font-size="27.90">0.8</text><text x="58.28" y="21.80" font-family="&quot;Liberation Sans&quot;, sans-serif" font-size="27.90">1</text><text transform="translate(299.40,98.40) scale(1.0103,1)" font-family="&quot;Liberation Sans&quot;, sans-serif" font-size="19.40">We = 0.0, 0.5, 1.0,</text><text transform="translate(299.60,119.60) scale(1.0103,1)" font-family="&quot;Liberation Sans&quot;, sans-serif" font-size="19.40">1.5</text><text transform="translate(251.90,423.50) scale(0.9949,1)" font-family="&quot;Liberation Sans&quot;, sans-serif" font-size="19.50">M = 0.0, 0.5, 1.0, 1.5</text></g><text transform="translate(508.6,527.6) scale(1.2,1)" font-family="&quot;Liberation Serif&quot;, serif" font-size="26.5">&#951;</text><text transform="translate(23.2,265.4) rotate(-90)" font-family="&quot;Liberation Sans&quot;, sans-serif" font-size="28.3">f<tspan dx="-1.6">&#39;</tspan>(<tspan font-family="&quot;Liberation Serif&quot;, serif" dx="0.3">&#951;</tspan><tspan dx="0.5">)</tspan></text><ellipse cx="385.1" cy="299.2" rx="45.1" ry="28.6" stroke="#000" stroke-width="2.2" fill="none"/><path d="M392.4,153.8 L338.6,246.7" stroke="#000" stroke-width="2.3" fill="none"/><path d="M333.53,255.51 L335.37,241.82 L339.65,244.99 L344.86,246.59 Z" fill="#000" stroke="#000" stroke-width="0.9" stroke-linejoin="round"/><path d="M406.5,332.6 L325.1,392.1" stroke="#000" stroke-width="2.3" fill="none"/><path d="M315.97,398.25 L324.26,386.75 L326.80,390.97 L330.86,394.23 Z" fill="#000" stroke="#000" stroke-width="0.9" stroke-linejoin="round"/><rect x="519.6" y="76.0" width="411.4" height="147.0" fill="#fff"/><g clip-path="url(#ci)"><path d="M515.09,112.02 L730.71,224.98" stroke="#ff0000" stroke-width="2.3" fill="none" stroke-dasharray="9 3.4 1.8 3.4"/><path d="M514.99,90.71 L715.00,186.50 L800.48,224.75" stroke="#aa00bb" stroke-width="2.3" fill="none" stroke-dasharray="9 3.4 1.8 3.4"/><path d="M597.61,73.36 L715.00,131.00 L919.05,224.81" stroke="#aa00bb" stroke-width="2.3" fill="none" stroke-dasharray="1.6 3.0"/><path d="M633.55,73.27 L715.00,114.80 L935.42,218.96" stroke="#ff0000" stroke-width="2.3" fill="none" stroke-dasharray="1.6 3.0"/><path d="M681.24,73.30 L715.00,90.30 L935.45,192.01" stroke="#aa00bb" stroke-width="2.3" fill="none" stroke-dasharray="10 3.4"/><path d="M758.86,73.47 L935.44,155.53" stroke="#ff0000" stroke-width="2.3" fill="none" stroke-dasharray="10 3.4"/><path d="M809.53,74.02 L935.47,131.08" stroke="#aa00bb" stroke-width="2.3" fill="none"/><path d="M802.95,74.00 L935.45,134.70" stroke="#ff0000" stroke-width="2.3" fill="none"/></g><path d="M574.90,223.0 V218.0 M574.90,76.0 V81.0 M640.30,223.0 V218.0 M640.30,76.0 V81.0 M705.70,223.0 V218.0 M705.70,76.0 V81.0 M771.10,223.0 V218.0 M771.10,76.0 V81.0 M836.50,223.0 V218.0 M836.50,76.0 V81.0 M901.90,223.0 V218.0 M901.90,76.0 V81.0 M519.6,208.20 H524.1 M931.0,208.20 H926.5 M519.6,184.52 H524.1 M931.0,184.52 H926.5 M519.6,160.84 H524.1 M931.0,160.84 H926.5 M519.6,137.16 H524.1 M931.0,137.16 H926.5 M519.6,113.48 H524.1 M931.0,113.48 H926.5 M519.6,89.80 H524.1 M931.0,89.80 H926.5" stroke="#000" stroke-width="2" fill="none"/><rect x="519.6" y="76.0" width="411.4" height="147.0" stroke="#000" stroke-width="2.4" fill="none"/><g fill="#000" stroke="#000" stroke-width="0.75" stroke-linejoin="round"><text transform="translate(561.17,237.80) scale(1.0462,1)" font-family="&quot;Liberation Sans&quot;, sans-serif" font-size="13.00">0.48</text><text transform="translate(630.35,237.80) scale(1.0462,1)" font-family="&quot;Liberation Sans&quot;, sans-serif" font-size="13.00">0.5</text><text transform="translate(691.97,237.80) scale(1.0462,1)" font-family="&quot;Liberation Sans&quot;, sans-serif" font-size="13.00">0.52</text><text transform="translate(757.37,237.80) scale(1.0462,1)" font-family="&quot;Liberation Sans&quot;, sans-serif" font-size="13.00">0.54</text><text transform="translate(822.77,237.80) scale(1.0462,1)" font-family="&quot;Liberation Sans&quot;, sans-serif" font-size="13.00">0.56</text><text transform="translate(888.17,237.80) scale(1.0462,1)" font-family="&quot;Liberation Sans&quot;, sans-serif" font-size="13.00">0.58</text><text transform="translate(487.93,212.80) scale(1.0462,1)" font-family="&quot;Liberation Sans&quot;, sans-serif" font-size="13.00">0.44</text><text transform="translate(487.93,189.12) scale(1.0462,1)" font-family="&quot;Liberation Sans&quot;, sans-serif" font-size="13.00">0.45</text><text transform="translate(487.93,165.44) scale(1.0462,1)" font-family="&quot;Liberation Sans&quot;, sans-serif" font-size="13.00">0.46</text><text transform="translate(487.93,141.76) scale(1.0462,1)" font-family="&quot;Liberation Sans&quot;, sans-serif" font-size="13.00">0.47</text><text transform="translate(487.93,118.08) scale(1.0462,1)" font-family="&quot;Liberation Sans&quot;, sans-serif" font-size="13.00">0.48</text><text transform="translate(487.93,94.40) scale(1.0462,1)" font-family="&quot;Liberation Sans&quot;, sans-serif" font-size="13.00">0.49</text></g><path d="M430.3,285.8 L564.5,219.6" stroke="#000" stroke-width="2.4" fill="none"/><rect x="512.09" y="495.70" width="5.82" height="6.10" fill="#fff"/><rect x="520.67" y="495.70" width="5.75" height="6.10" fill="#fff"/><rect x="720.70" y="495.70" width="5.82" height="6.10" fill="#fff"/><rect x="729.29" y="495.70" width="5.75" height="6.10" fill="#fff"/><rect x="59.33" y="17.00" width="5.82" height="6.10" fill="#fff"/><rect x="67.91" y="17.00" width="5.75" height="6.10" fill="#fff"/><rect x="427.85" y="94.97" width="4.34" height="4.73" fill="#fff"/><rect x="434.22" y="94.97" width="4.34" height="4.73" fill="#fff"/><rect x="300.04" y="116.17" width="4.34" height="4.73" fill="#fff"/><rect x="306.41" y="116.17" width="4.34" height="4.73" fill="#fff"/><rect x="366.09" y="420.06" width="4.31" height="4.74" fill="#fff"/><rect x="372.41" y="420.06" width="4.31" height="4.74" fill="#fff"/><rect x="403.84" y="420.06" width="4.31" height="4.74" fill="#fff"/><rect x="410.16" y="420.06" width="4.31" height="4.74" fill="#fff"/></svg></body></html>
